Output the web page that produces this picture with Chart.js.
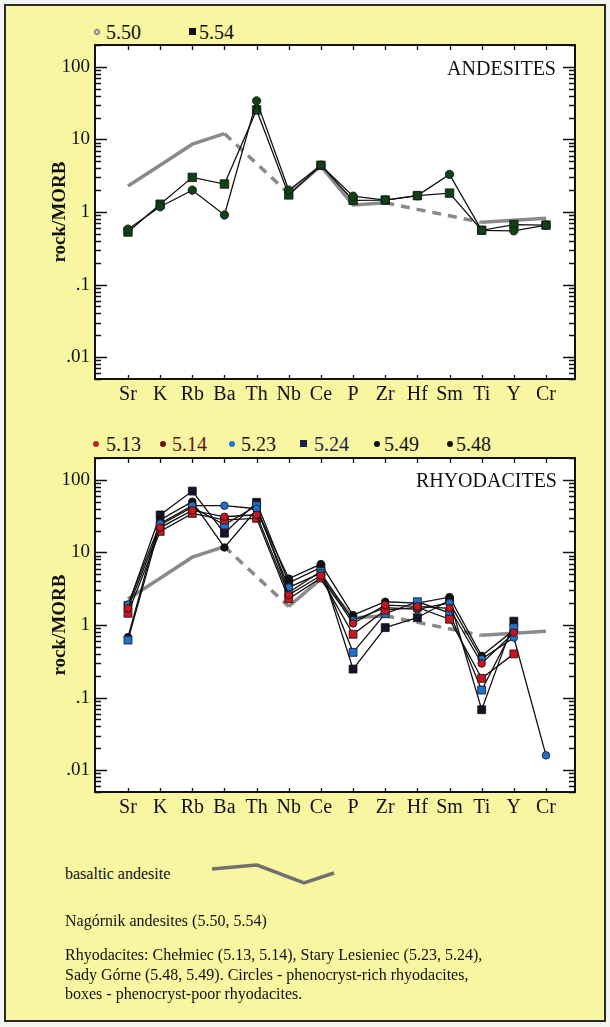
<!DOCTYPE html>
<html lang="en">
<head>
    <meta charset="UTF-8">
    <title>Spider diagrams – rock/MORB</title>
    <style>
        body {
            margin: 0;
            width: 610px;
            height: 1027px;
            background: #f4f4f1;
            font-family: 'Liberation Serif', 'Times New Roman', serif;
            color: #111;
            position: relative;
            overflow: hidden;
        }
        #panel {
            position: absolute;
            left: 4px;
            top: 4px;
            width: 598px;
            height: 1014px;
            border: 2px solid #2a2a2a;
            background: #f9f6a1;
        }
        canvas { position: absolute; left: 0; }
        .lg { position: absolute; font-size: 20px; line-height: 24px; white-space: nowrap; }
        .dot { position: absolute; width: 6px; height: 6px; border-radius: 50%; }
        .box { position: absolute; width: 7px; height: 7px; }
        .ttl { position: absolute; font-size: 20px; line-height: 24px; }
        .note { position: absolute; left: 65px; font-size: 16px; line-height: 19.5px; color: #111; }
    </style>
    <script src="https://cdn.jsdelivr.net/npm/chart.js"></script>
</head>
<body>
    <div id="panel"></div>

    <!-- legend andesites -->
    <div class="dot" style="left:94px; top:29px; background:#ccc; border:1px solid #555; width:4px; height:4px;"></div>
    <div class="lg" style="left:106px; top:20px;">5.50</div>
    <div class="box" style="left:189px; top:28px; background:#111;"></div>
    <div class="lg" style="left:199px; top:20px;">5.54</div>

    <canvas id="andesites" width="610" height="410" style="top:0;"></canvas>
    <div class="ttl" style="right:54px; top:56px;">ANDESITES</div>

    <!-- legend rhyodacites -->
    <div class="dot" style="left:93px; top:441px; background:#c0202a;"></div>
    <div class="lg" style="left:106px; top:432px;">5.13</div>
    <div class="dot" style="left:160px; top:441px; background:#6e1418;"></div>
    <div class="lg" style="left:172px; top:432px; color:#5e1016;">5.14</div>
    <div class="dot" style="left:229px; top:441px; background:#2070d0;"></div>
    <div class="lg" style="left:241px; top:432px;">5.23</div>
    <div class="box" style="left:300px; top:440px; background:#16244a;"></div>
    <div class="lg" style="left:314px; top:432px; color:#16244a;">5.24</div>
    <div class="dot" style="left:374px; top:441px; background:#111;"></div>
    <div class="lg" style="left:384px; top:432px;">5.49</div>
    <div class="dot" style="left:447px; top:441px; background:#111;"></div>
    <div class="lg" style="left:456px; top:432px;">5.48</div>

    <canvas id="rhyodacites" width="610" height="410" style="top:413px;"></canvas>
    <div class="ttl" style="right:53px; top:468px;">RHYODACITES</div>

    <!-- notes -->
    <div class="note" style="top:864px;">basaltic andesite</div>
    <svg style="position:absolute; left:0; top:0;" width="610" height="1027">
        <polyline points="212,869 257,865 304,883 334,873" fill="none" stroke="#707070" stroke-width="3.5"/>
    </svg>
    <div class="note" style="top:911px;">Nagórnik andesites (5.50, 5.54)</div>
    <div class="note" style="top:945px;">Rhyodacites: Chełmiec (5.13, 5.14), Stary Lesieniec (5.23, 5.24),<br>Sady Górne (5.48, 5.49). Circles - phenocryst-rich rhyodacites,<br>boxes - phenocryst-poor rhyodacites.</div>

    <script>
        // elements on the x axis
        const elements = ['Sr', 'K', 'Rb', 'Ba', 'Th', 'Nb', 'Ce', 'P', 'Zr', 'Hf', 'Sm', 'Ti', 'Y', 'Cr'];
        const yTickValues = [0.01, 0.1, 1, 10, 100];
        const yTickLabels = ['.01', '.1', '1', '10', '100'];

        // basaltic andesite reference line (null = not analysed, bridged with dashes)
        const basalticAndesite = [2.28, 4.4, 8.6, 12, null, 1.8, 4.3, 1.25, 1.34, null, null, 0.72, 0.77, 0.82];

        // Nagórnik andesites
        const and550 = [0.58, 1.18, 2.0, 0.91, 34, 2.0, 4.4, 1.65, 1.46, 1.68, 3.3, 0.56, 0.55, 0.66];
        const and554 = [0.53, 1.28, 3.0, 2.43, 25.5, 1.72, 4.4, 1.45, 1.46, 1.68, 1.82, 0.56, 0.67, 0.66];

        // rhyodacites
        const r513 = [1.7, 22, 38, 31, 33, 2.6, 4.8, 1.05, 1.88, 1.8, 1.7, 0.295, 0.785, null];
        const r514 = [1.45, 19.5, 34.5, 28, 29.5, 2.3, 4.45, 0.745, 1.6, 1.75, 1.2, 0.184, 0.4, null];
        const r523 = [1.92, 25, 44, 44, 40, 3.3, 5.2, 1.16, 1.73, 1.64, 2.02, 0.34, 0.67, 0.016];
        const r524 = [0.62, 24, 42, 24, 44, 2.8, 5.5, 0.42, 1.43, 2.09, 1.47, 0.127, 0.92, null];
        const r549 = [0.68, 28, 50, 11.7, 39, 4.36, 6.9, 1.37, 2.09, 2.0, 2.42, 0.376, 0.85, null];
        const r548 = [1.85, 32.8, 70, 18.4, 49, 3.8, 6.2, 0.247, 0.92, 1.26, 2.2, 0.068, 1.13, null];

        Chart.defaults.font.family = "'Liberation Serif', 'Times New Roman', serif";
        Chart.defaults.color = '#111';

        function toPoints(arr) {
            return arr.map((v, i) => ({ x: i, y: v }));
        }

        const skipped = (ctx, value) => (ctx.p0.skip || ctx.p1.skip) ? value : undefined;

        function sample(label, values, style, fill, radius) {
            return {
                label: label,
                data: toPoints(values),
                borderColor: '#111',
                borderWidth: 1.3,
                pointStyle: style,
                pointRadius: radius,
                pointBackgroundColor: fill,
                pointBorderColor: '#111',
                pointBorderWidth: 0.8,
                tension: 0
            };
        }

        function basaltLine() {
            return {
                label: 'basaltic andesite',
                data: toPoints(basalticAndesite),
                borderColor: '#8a8a8a',
                borderWidth: 3.5,
                pointRadius: 0,
                spanGaps: true,
                segment: { borderDash: ctx => skipped(ctx, [9, 7]) }
            };
        }

        // white plot area, frame and inward ticks
        const framePlugin = {
            id: 'frame',
            beforeDraw(chart) {
                const { ctx, chartArea: a } = chart;
                ctx.save();
                ctx.fillStyle = '#fff';
                ctx.fillRect(a.left, a.top, a.right - a.left, a.bottom - a.top);
                ctx.restore();
            },
            afterDraw(chart) {
                const { ctx, chartArea: a, scales } = chart;
                const xs = scales.x, ys = scales.y;
                ctx.save();
                ctx.strokeStyle = '#111';
                ctx.lineWidth = 1.3;
                ctx.beginPath();
                for (let e = -3; e <= 2; e++) {
                    for (let m = 1; m <= 9; m++) {
                        const v = m * Math.pow(10, e);
                        if (v < ys.min || v > ys.max) continue;
                        const py = Math.round(ys.getPixelForValue(v)) + 0.5;
                        const len = m === 1 ? 12 : 6;
                        ctx.moveTo(a.left, py); ctx.lineTo(a.left + len, py);
                        ctx.moveTo(a.right, py); ctx.lineTo(a.right - len, py);
                    }
                }
                elements.forEach((el, i) => {
                    const px = Math.round(xs.getPixelForValue(i)) + 0.5;
                    ctx.moveTo(px, a.top); ctx.lineTo(px, a.top + 5);
                    ctx.moveTo(px, a.bottom); ctx.lineTo(px, a.bottom - 4);
                });
                ctx.stroke();
                ctx.lineWidth = 2;
                ctx.strokeRect(a.left, a.top, a.right - a.left, a.bottom - a.top);
                ctx.restore();
            }
        };

        function makeChart(id, datasets) {
            const ctx = document.getElementById(id).getContext('2d');
            return new Chart(ctx, {
                type: 'line',
                data: { datasets: datasets },
                options: {
                    responsive: false,
                    animation: false,
                    layout: { padding: { left: 0, right: 35, top: 45, bottom: 0 } },
                    scales: {
                        x: {
                            type: 'linear',
                            min: -1.026,
                            max: 13.902,
                            grid: { display: false, drawTicks: false },
                            border: { display: false },
                            afterBuildTicks: s => { s.ticks = elements.map((e, i) => ({ value: i })); },
                            afterFit: s => { s.height = 31; },
                            ticks: {
                                autoSkip: false,
                                maxRotation: 0,
                                padding: 4,
                                font: { size: 20 },
                                callback: v => elements[v]
                            }
                        },
                        y: {
                            type: 'logarithmic',
                            min: 0.005,
                            max: 200,
                            grid: { display: false, drawTicks: false },
                            border: { display: false },
                            afterBuildTicks: s => { s.ticks = yTickValues.map(v => ({ value: v })); },
                            afterFit: s => { s.width = 95; },
                            ticks: {
                                padding: 5,
                                font: { size: 19 },
                                callback: (v, i) => yTickLabels[i]
                            },
                            title: {
                                display: true,
                                text: 'rock/MORB',
                                font: { size: 19, weight: 'bold' },
                                padding: { top: 49, bottom: 0 }
                            }
                        }
                    },
                    plugins: {
                        legend: { display: false },
                        tooltip: { enabled: false }
                    }
                },
                plugins: [framePlugin]
            });
        }

        const green = '#0f4216';
        makeChart('andesites', [
            sample('5.50', and550, 'circle', green, 4.2),
            sample('5.54', and554, 'rect', green, 6),
            basaltLine()
        ]);

        makeChart('rhyodacites', [
            sample('5.13', r513, 'circle', '#c8161e', 3.8),
            sample('5.14', r514, 'rect', '#c8161e', 5.6),
            sample('5.23', r523, 'circle', '#2070d0', 3.8),
            sample('5.24', r524, 'rect', '#2070d0', 5.6),
            sample('5.49', r549, 'circle', '#111', 3.8),
            sample('5.48', r548, 'rect', '#14142a', 5.6),
            basaltLine()
        ]);
    </script>
</body>
</html>
